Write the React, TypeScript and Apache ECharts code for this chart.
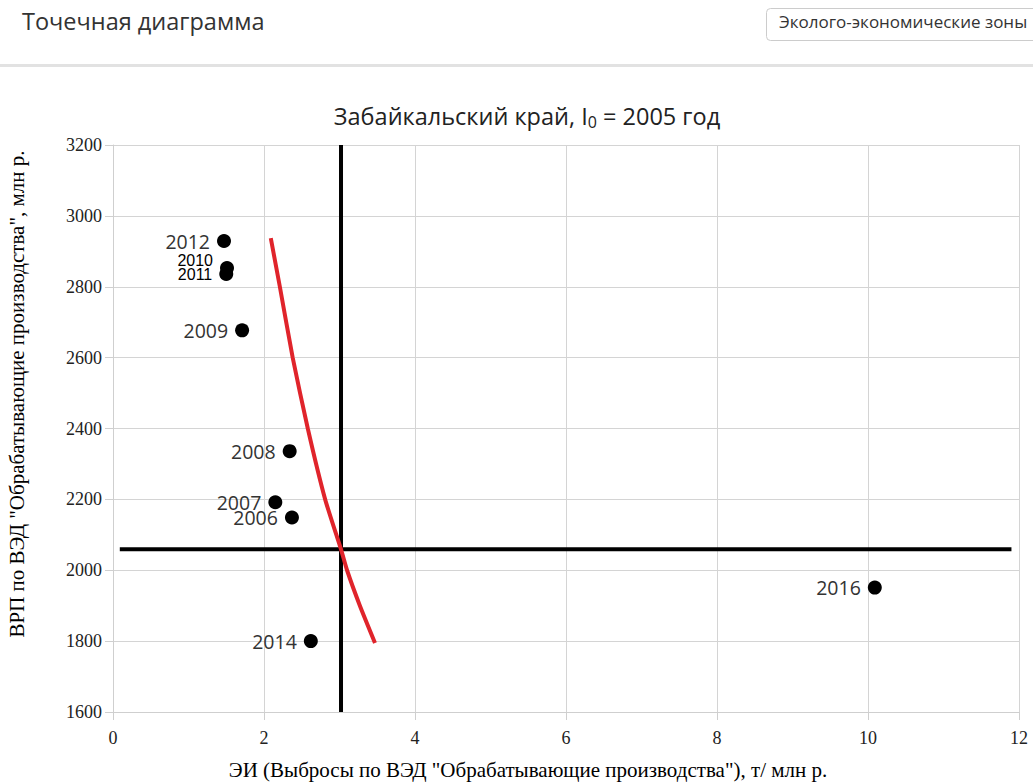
import React, { useEffect, useRef } from "react";
import * as echarts from "echarts";

const years = ["2006", "2007", "2008", "2009", "2010", "2011", "2012", "2014", "2016"];
const eiValues = [2.37, 2.15, 2.34, 1.71, 1.51, 1.5, 1.47, 2.62, 10.09];
const grpValues = [2149, 2192, 2336, 2677, 2853, 2836, 2929, 1800, 1951];

const curveEi = [2.09, 2.21, 2.38, 2.58, 2.81, 3.02, 3.1, 3.27, 3.47];
const curveGrp = [2937, 2800, 2600, 2400, 2200, 2059, 2000, 1900, 1795];

const vLineEi = [3.02, 3.02];
const vLineGrp = [1600, 3200];
const hLineEi = [0.09, 11.9];
const hLineGrp = [2059, 2059];

const xTicks = [0, 2, 4, 6, 8, 10, 12];
const yTicks = [1600, 1800, 2000, 2200, 2400, 2600, 2800, 3000, 3200];

const pageTitle = "Точечная диаграмма";
const buttonText = "Эколого-экономические зоны";
const chartTitle = "Забайкальский край, I";
const chartTitleSub = "0";
const chartTitleTail = " = 2005 год";
const xName = 'ЭИ (Выбросы по ВЭД "Обрабатывающие производства"), т/ млн р.';
const yName = 'ВРП по ВЭД "Обрабатывающие производства", млн р.';

const specialYears: Record<string, number[]> = { "2010": [0, -7], "2011": [0, 1] };

export default function App() {
  const ref = useRef<HTMLDivElement>(null);
  useEffect(() => {
    if (!ref.current) return;
    const chart = echarts.init(ref.current, null, { renderer: "svg" });
    const scatterData = years.map((y, i) => {
      const item: any = { name: y, value: [eiValues[i], grpValues[i]] };
      if (specialYears[y]) {
        item.label = {
          fontFamily: "Liberation Sans, Arial, sans-serif",
          fontSize: 16,
          color: "#000",
          offset: specialYears[y],
        };
      }
      return item;
    });
    const serif = "Liberation Serif, Times New Roman, serif";
    chart.setOption({
      animation: false,
      backgroundColor: "#fff",
      grid: { left: 113, right: 14, top: 145, bottom: 70 },
      xAxis: {
        type: "value",
        min: xTicks[0],
        max: xTicks[xTicks.length - 1],
        interval: 2,
        axisLine: { show: true, lineStyle: { color: "#cfcfcf", width: 1 } },
        axisTick: { show: true, length: 8, lineStyle: { color: "#cfcfcf" } },
        splitLine: { show: true, lineStyle: { color: "#d4d4d4", width: 1 } },
        axisLabel: {
          margin: 17,
          fontFamily: serif,
          fontSize: 18,
          color: "#222",
          formatter: (v: number) => String(v),
        },
      },
      yAxis: {
        type: "value",
        min: yTicks[0],
        max: yTicks[yTicks.length - 1],
        interval: 200,
        axisLine: { show: true, lineStyle: { color: "#cfcfcf", width: 1 } },
        axisTick: { show: true, length: 8, lineStyle: { color: "#cfcfcf" } },
        splitLine: { show: true, lineStyle: { color: "#d4d4d4", width: 1 } },
        axisLabel: {
          margin: 11,
          fontFamily: serif,
          fontSize: 18,
          color: "#222",
          formatter: (v: number) => String(v),
        },
      },
      graphic: [
        {
          type: "text",
          left: 22,
          top: 9,
          style: { text: pageTitle, fontFamily: "Open Sans", fontSize: 23.5, fill: "#333" },
        },
        {
          type: "rect",
          shape: { x: 766.5, y: 8.5, width: 290, height: 32, r: 4 },
          style: { fill: "#fff", stroke: "#cccccc", lineWidth: 1 },
        },
        {
          type: "text",
          left: 779,
          top: 13,
          style: { text: buttonText, fontFamily: "Open Sans", fontSize: 17, fill: "#333" },
        },
        {
          type: "rect",
          shape: { x: 0, y: 64, width: 1033, height: 3 },
          style: { fill: "#e2e2e2" },
        },
        {
          type: "text",
          x: 527,
          y: 116,
          style: {
            text: "{a|" + chartTitle + "}{s|" + chartTitleSub + "}{a|" + chartTitleTail + "}",
            align: "center",
            verticalAlign: "middle",
            rich: {
              a: { fontFamily: "Open Sans", fontSize: 23.5, fill: "#222", color: "#222" },
              s: { fontFamily: "Open Sans", fontSize: 16, fill: "#222", color: "#222", padding: [12, 0, 0, 0] },
            },
          },
        },
        {
          type: "text",
          x: 528,
          y: 770,
          style: {
            text: xName,
            align: "center",
            verticalAlign: "middle",
            fontFamily: serif,
            fontSize: 21,
            fill: "#000",
          },
        },
        {
          type: "text",
          x: 17,
          y: 394,
          rotation: Math.PI / 2,
          style: {
            text: yName,
            align: "center",
            verticalAlign: "middle",
            fontFamily: serif,
            fontSize: 21,
            fill: "#000",
          },
        },
      ],
      series: [
        {
          type: "line",
          data: vLineEi.map((x, i) => [x, vLineGrp[i]]),
          symbol: "none",
          lineStyle: { color: "#000", width: 4 },
          silent: true,
          z: 3,
        },
        {
          type: "line",
          data: hLineEi.map((x, i) => [x, hLineGrp[i]]),
          symbol: "none",
          lineStyle: { color: "#000", width: 4 },
          silent: true,
          z: 3,
        },
        {
          type: "line",
          data: curveEi.map((x, i) => [x, curveGrp[i]]),
          symbol: "none",
          smooth: 0.2,
          lineStyle: { color: "#e0242b", width: 4 },
          silent: true,
          z: 4,
        },
        {
          type: "scatter",
          data: scatterData,
          symbol: "circle",
          symbolSize: 14,
          itemStyle: { color: "#000", opacity: 1 },
          z: 5,
          label: {
            show: true,
            position: "left",
            distance: 7,
            formatter: (p: any) => p.name,
            fontFamily: "Open Sans",
            fontSize: 19.5,
            color: "#333",
          },
        },
      ],
    });
    return () => chart.dispose();
  }, []);
  return (
    <div
      ref={ref}
      style={{ position: "fixed", left: 0, top: 0, width: 1033, height: 782 }}
    />
  );
}
